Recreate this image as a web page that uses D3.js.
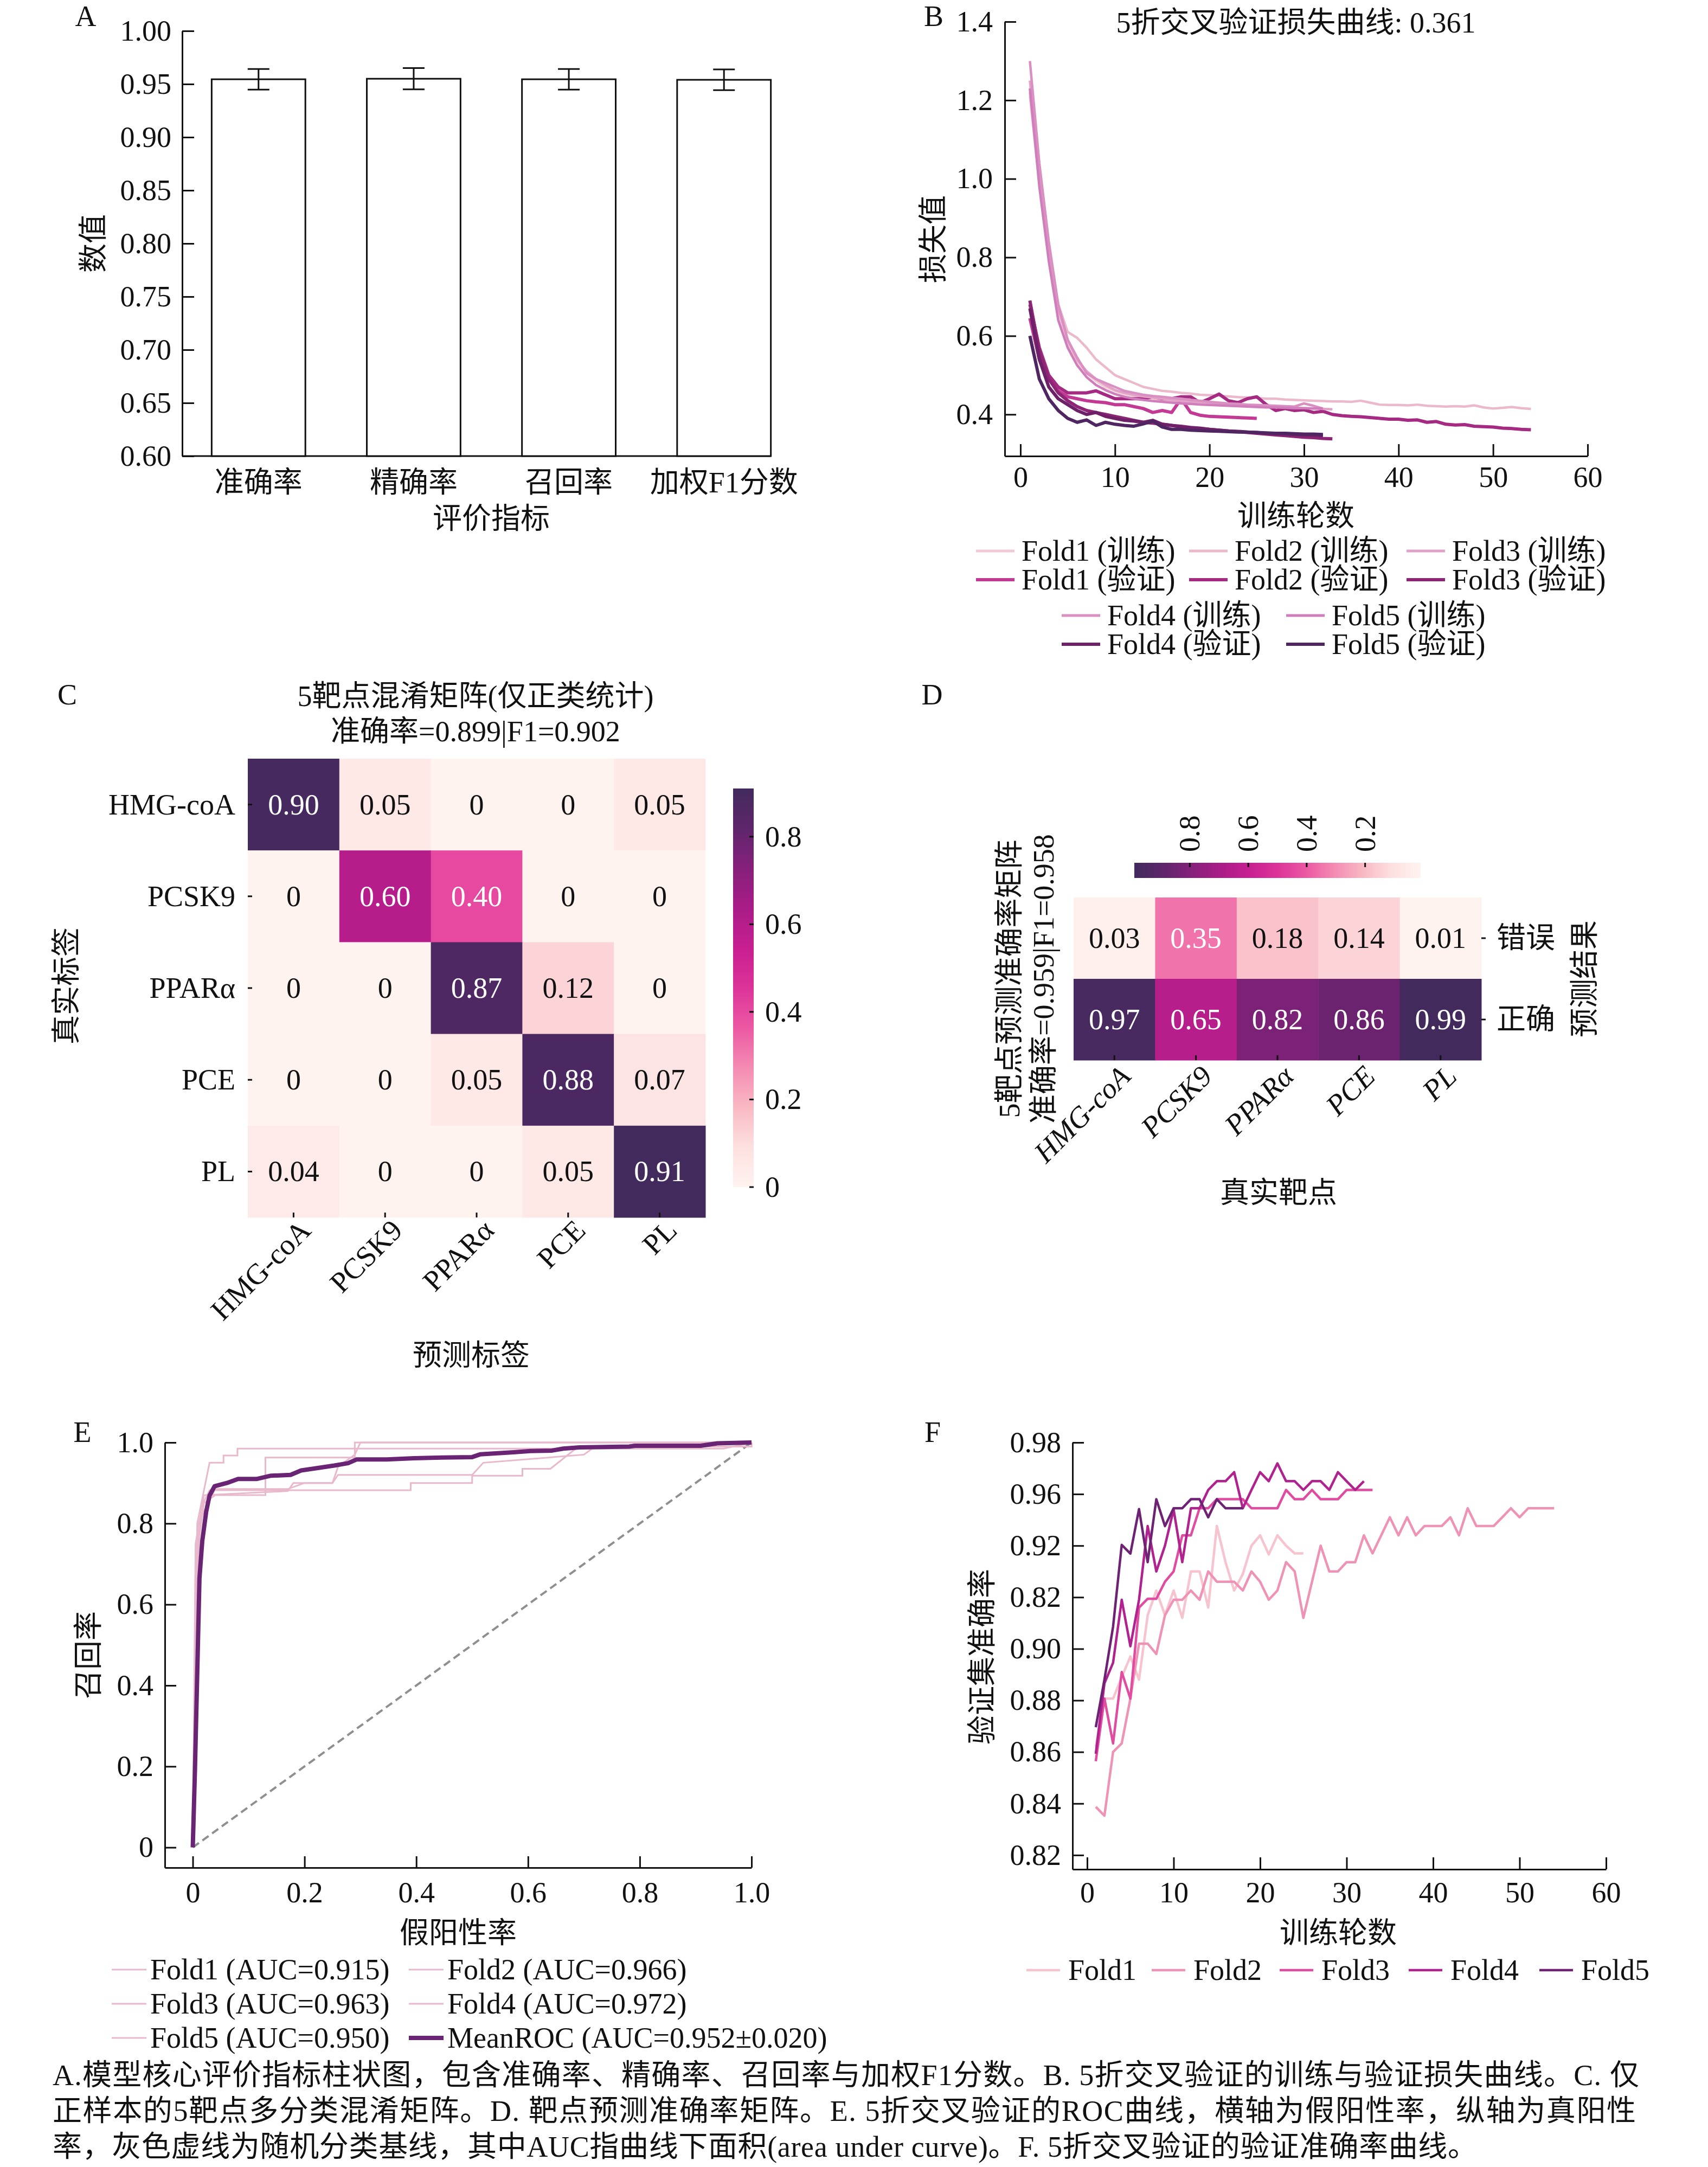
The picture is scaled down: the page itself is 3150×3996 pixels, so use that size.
<!DOCTYPE html>
<html><head><meta charset="utf-8">
<script src="https://cdn.jsdelivr.net/npm/d3@7"></script>
<style>body{margin:0;background:#fff}svg{display:block}</style>
</head><body>
<svg id="fig" width="3150" height="3996"></svg>
<script>
// ================= DATA =================
// Panel A
const metricsA = ["准确率", "精确率", "召回率", "加权F1分数"];
const meanA = [0.9545, 0.9550, 0.9545, 0.9540];
const errA = [0.0097, 0.0100, 0.0097, 0.0098];
const yTicksA = [0.60, 0.65, 0.70, 0.75, 0.80, 0.85, 0.90, 0.95, 1.00];

// Panel B (loss per epoch, epochs start at 1)
const foldNames = ["Fold1", "Fold2", "Fold3", "Fold4", "Fold5"];
const trainLossB = [
  [1.21,0.99,0.80,0.66,0.58,0.535,0.505,0.485,0.47,0.46,0.452,0.447,0.443,0.44,0.437,0.435,0.433,0.431,0.43,0.428,0.427,0.426,0.425,0.424,0.423],
  [1.22,1.00,0.82,0.68,0.61,0.595,0.57,0.54,0.52,0.50,0.49,0.48,0.47,0.465,0.46,0.458,0.455,0.453,0.45,0.449,0.448,0.446,0.444,0.443,0.442,0.44,0.44,0.438,0.437,0.436,0.435,0.434,0.433,0.433,0.432,0.435,0.43,0.425,0.424,0.424,0.423,0.425,0.422,0.421,0.42,0.421,0.42,0.423,0.418,0.415,0.417,0.419,0.416,0.414],
  [1.25,1.02,0.83,0.67,0.59,0.54,0.51,0.49,0.475,0.462,0.455,0.45,0.446,0.443,0.44,0.437,0.434,0.432,0.43,0.428,0.426,0.425,0.423,0.422,0.421,0.42,0.419,0.418,0.417,0.416,0.415,0.414,0.413],
  [1.30,1.04,0.84,0.68,0.59,0.545,0.505,0.49,0.48,0.47,0.46,0.455,0.45,0.447,0.445,0.442,0.44,0.437,0.435,0.432,0.43,0.428,0.427,0.425,0.424,0.423,0.422,0.421,0.42,0.428,0.422,0.415],
  [1.23,0.98,0.79,0.64,0.57,0.525,0.495,0.475,0.462,0.452,0.445,0.44,0.437,0.434,0.432,0.43,0.428,0.427,0.425,0.424,0.423,0.422,0.421,0.42,0.419,0.418,0.418,0.417,0.416,0.416,0.415,0.415]
];
const valLossB = [
  [0.645,0.54,0.49,0.46,0.445,0.44,0.435,0.432,0.43,0.425,0.425,0.42,0.415,0.405,0.41,0.405,0.44,0.405,0.398,0.395,0.394,0.393,0.392,0.391,0.390],
  [0.68,0.57,0.50,0.47,0.455,0.455,0.455,0.46,0.45,0.44,0.44,0.44,0.44,0.445,0.44,0.44,0.445,0.445,0.43,0.44,0.452,0.435,0.43,0.44,0.445,0.425,0.41,0.415,0.41,0.412,0.405,0.408,0.40,0.397,0.395,0.394,0.392,0.39,0.388,0.388,0.385,0.386,0.38,0.382,0.375,0.373,0.374,0.37,0.369,0.368,0.365,0.364,0.362,0.361],
  [0.69,0.56,0.49,0.455,0.435,0.42,0.41,0.405,0.40,0.395,0.39,0.385,0.38,0.378,0.375,0.372,0.37,0.367,0.365,0.362,0.36,0.358,0.356,0.354,0.352,0.35,0.348,0.346,0.344,0.342,0.341,0.339,0.338],
  [0.67,0.54,0.47,0.44,0.425,0.41,0.40,0.405,0.395,0.39,0.385,0.383,0.38,0.385,0.375,0.372,0.368,0.366,0.364,0.362,0.36,0.358,0.357,0.355,0.354,0.352,0.351,0.35,0.349,0.348,0.347,0.346],
  [0.60,0.49,0.44,0.41,0.39,0.38,0.386,0.372,0.38,0.375,0.372,0.37,0.376,0.383,0.368,0.362,0.362,0.36,0.359,0.358,0.357,0.356,0.355,0.355,0.354,0.353,0.352,0.352,0.351,0.35,0.35,0.349]
];
const xTicksB = [0, 10, 20, 30, 40, 50, 60];
const yTicksB = [0.4, 0.6, 0.8, 1.0, 1.2, 1.4];
const titleB = "5折交叉验证损失曲线: 0.361";

// Panel C
const targets = ["HMG-coA", "PCSK9", "PPARα", "PCE", "PL"];
const confC = [
  [0.90, 0.05, 0, 0, 0.05],
  [0, 0.60, 0.40, 0, 0],
  [0, 0, 0.87, 0.12, 0],
  [0, 0, 0.05, 0.88, 0.07],
  [0.04, 0, 0, 0.05, 0.91]
];
const cbTicksC = [0, 0.2, 0.4, 0.6, 0.8];

// Panel D
const rowsD = ["错误", "正确"];
const accD = [
  [0.03, 0.35, 0.18, 0.14, 0.01],
  [0.97, 0.65, 0.82, 0.86, 0.99]
];
const cbTicksD = [0.8, 0.6, 0.4, 0.2];

// Panel E (ROC points: [FPR, TPR])
const aucLabelsE = ["Fold1 (AUC=0.915)", "Fold2 (AUC=0.966)", "Fold3 (AUC=0.963)", "Fold4 (AUC=0.972)", "Fold5 (AUC=0.950)"];
const meanLabelE = "MeanROC (AUC=0.952±0.020)";
const rocFolds = [
  [[0,0],[0.005,0.6],[0.015,0.84],[0.03,0.882],[0.39,0.882],[0.39,0.90],[0.50,0.90],[0.50,0.918],[0.59,0.918],[0.59,0.935],[0.64,0.935],[0.69,0.99],[1,0.99],[1,1]],
  [[0,0],[0.005,0.7],[0.02,0.85],[0.04,0.87],[0.13,0.87],[0.13,0.963],[0.29,0.963],[0.29,1],[1,1]],
  [[0,0],[0.008,0.8],[0.03,0.95],[0.055,0.95],[0.055,0.968],[0.08,0.968],[0.08,0.985],[0.95,0.985],[1,1]],
  [[0,0],[0.005,0.75],[0.02,0.87],[0.17,0.88],[0.18,0.90],[0.25,0.90],[0.26,0.94],[0.29,0.97],[0.30,1],[1,1]],
  [[0,0],[0.01,0.8],[0.04,0.885],[0.17,0.885],[0.2,0.9],[0.25,0.9],[0.26,0.92],[0.5,0.92],[0.52,0.95],[0.7,0.97],[0.72,0.99],[1,0.99],[1,1]]
];
const meanROC = [[0,0],[0.004,0.196],[0.012,0.665],[0.017,0.757],[0.024,0.829],[0.030,0.869],[0.039,0.892],[0.061,0.900],[0.081,0.910],[0.115,0.910],[0.140,0.918],[0.175,0.920],[0.194,0.931],[0.219,0.936],[0.253,0.943],[0.278,0.949],[0.293,0.958],[0.347,0.958],[0.396,0.961],[0.446,0.963],[0.500,0.964],[0.515,0.971],[0.574,0.976],[0.604,0.979],[0.643,0.980],[0.663,0.985],[0.692,0.988],[0.781,0.990],[0.791,0.992],[0.909,0.992],[0.939,0.998],[1,1]];
const ticksE = [0, 0.2, 0.4, 0.6, 0.8, 1.0];

// Panel F (validation accuracy per epoch)
const valAccF = [
  [0.862,0.8807,0.8807,0.889,0.897,0.888,0.913,0.9226,0.913,0.9226,0.912,0.93,0.93,0.916,0.9476,0.9336,0.9226,0.929,0.94,0.944,0.9366,0.944,0.94,0.937,0.937],
  [0.8387,0.8353,0.86,0.8633,0.8807,0.902,0.902,0.898,0.913,0.919,0.919,0.9226,0.919,0.93,0.926,0.926,0.926,0.9226,0.93,0.926,0.919,0.9226,0.9336,0.93,0.912,0.926,0.94,0.93,0.93,0.9336,0.9336,0.944,0.937,0.944,0.951,0.944,0.951,0.944,0.9476,0.9476,0.9476,0.951,0.944,0.9545,0.9476,0.9476,0.9476,0.951,0.9545,0.951,0.9545,0.9545,0.9545,0.9545],
  [0.8564,0.8807,0.8633,0.891,0.8807,0.916,0.9194,0.9194,0.926,0.93,0.944,0.944,0.9545,0.9545,0.958,0.958,0.958,0.958,0.9545,0.9545,0.9545,0.9545,0.9616,0.958,0.958,0.9616,0.958,0.958,0.958,0.9616,0.9616,0.9616,0.9616],
  [0.8593,0.8866,0.8946,0.919,0.901,0.919,0.9476,0.93,0.94,0.954,0.9336,0.9545,0.9545,0.9616,0.965,0.965,0.9685,0.9545,0.9616,0.9685,0.965,0.9719,0.965,0.965,0.9616,0.965,0.965,0.9616,0.9685,0.965,0.9616,0.965],
  [0.8696,0.888,0.9086,0.9403,0.9369,0.9542,0.9336,0.958,0.9476,0.9545,0.9545,0.958,0.958,0.951,0.958,0.9545,0.9545,0.9545]
];
const xTicksF = [0, 10, 20, 30, 40, 50, 60];
const yTicksF = [0.82, 0.84, 0.86, 0.88, 0.90, 0.92, 0.94, 0.96, 0.98];
const yTickLabelsF = ["0.82", "0.84", "0.86", "0.88", "0.90", "0.82", "0.92", "0.96", "0.98"];

const captionLines = [
  "A.模型核心评价指标柱状图，包含准确率、精确率、召回率与加权F1分数。B. 5折交叉验证的训练与验证损失曲线。C. 仅",
  "正样本的5靶点多分类混淆矩阵。D. 靶点预测准确率矩阵。E. 5折交叉验证的ROC曲线，横轴为假阳性率，纵轴为真阳性",
  "率，灰色虚线为随机分类基线，其中AUC指曲线下面积(area under curve)。F. 5折交叉验证的验证准确率曲线。"
];

// ================= STYLE =================
const FONT = "'Liberation Serif','Times New Roman','Noto Sans CJK SC',serif";
const FS = 54;
const INK = "#111";
const trainColors = ["#f2cad3", "#ecb8cb", "#e2a1c7", "#d98fc2", "#cf7ebb"];
const valColors = ["#c23a94", "#a52b82", "#8c2574", "#6e2069", "#4f2662"];
const accColors = ["#f6c3ce", "#ef93b6", "#e04c9f", "#b0238e", "#6d2273"];
const cmapStops = ["#fff3f0","#fde0e0","#f9b9c3","#f48bb3","#ec58a3","#dc3399","#c81f91","#aa1c87","#86207a","#5e256b","#422a5d"];
const cmap = d3.piecewise(d3.interpolateRgb, cmapStops);

const svg = d3.select("#fig");
svg.append("rect").attr("width", 3150).attr("height", 3996).attr("fill", "#fff");
const defs = svg.append("defs");

function T(x, y, s, o = {}) {
  const t = svg.append("text")
    .attr("x", x).attr("y", y)
    .attr("font-family", FONT).attr("font-size", o.fs || FS)
    .attr("text-anchor", o.anchor || "middle")
    .attr("dominant-baseline", o.base || "central")
    .attr("fill", o.fill || INK)
    .text(s);
  if (o.rot) t.attr("transform", `rotate(${o.rot},${x},${y})`);
  if (o.italic) t.attr("font-style", "italic");
  if (o.len) t.attr("textLength", o.len).attr("lengthAdjust", "spacing");
  return t;
}
function styleAxis(g) {
  g.attr("font-family", FONT).attr("font-size", FS);
  g.selectAll(".tick line").attr("stroke", INK).attr("stroke-width", 3);
  g.selectAll(".domain").attr("stroke", INK).attr("stroke-width", 3);
  g.selectAll(".tick text").attr("fill", INK);
}

// ================= PANEL A =================
{
  const y = d3.scaleLinear().domain([0.60, 1.00]).range([841, 57]);
  const x = d3.scaleBand().domain(metricsA).range([336, 1476]).paddingInner(0.396).paddingOuter(0.19);
  const gy = svg.append("g").attr("transform", "translate(336,0)")
    .call(d3.axisLeft(y).tickValues(yTicksA).tickFormat(d3.format(".2f")).tickSizeInner(-22).tickSizeOuter(0).tickPadding(20));
  styleAxis(gy);
  const gx = svg.append("g").attr("transform", "translate(0,841)")
    .call(d3.axisBottom(x).tickSize(0).tickPadding(29));
  gx.select(".domain").remove();
  styleAxis(gx);
  const xEnd = x(metricsA[metricsA.length - 1]) + x.bandwidth();
  svg.append("line").attr("x1", 336).attr("x2", xEnd).attr("y1", 841).attr("y2", 841).attr("stroke", INK).attr("stroke-width", 3);
  metricsA.forEach((m, i) => {
    svg.append("rect").attr("x", x(m)).attr("width", x.bandwidth())
      .attr("y", y(meanA[i])).attr("height", y(0.60) - y(meanA[i]))
      .attr("fill", "#fff").attr("stroke", INK).attr("stroke-width", 3);
    const cx = x(m) + x.bandwidth() / 2;
    const y1 = y(meanA[i] + errA[i]), y2 = y(meanA[i] - errA[i]);
    svg.append("line").attr("x1", cx).attr("x2", cx).attr("y1", y1).attr("y2", y2).attr("stroke", INK).attr("stroke-width", 3);
    [y1, y2].forEach(yy => svg.append("line").attr("x1", cx - 20).attr("x2", cx + 20).attr("y1", yy).attr("y2", yy).attr("stroke", INK).attr("stroke-width", 3));
  });
  T(158, 30, "A");
  T(173, 449, "数值", { rot: -90 });
  T(906, 957, "评价指标");
}

// ================= PANEL B =================
{
  const x = d3.scaleLinear().domain([-1.66, 60]).range([1853, 2928]);
  const y = d3.scaleLinear().domain([0.294, 1.4]).range([841, 40]);
  const line = d3.line().x((d, i) => x(i + 1)).y(d => y(d));
  foldNames.forEach((f, i) => {
    svg.append("path").attr("d", line(trainLossB[i])).attr("fill", "none")
      .attr("stroke", trainColors[i]).attr("stroke-width", 4.5).attr("stroke-linejoin", "round");
    svg.append("path").attr("d", line(valLossB[i])).attr("fill", "none")
      .attr("stroke", valColors[i]).attr("stroke-width", 6).attr("stroke-linejoin", "round");
  });
  const gx = svg.append("g").attr("transform", "translate(0,841)")
    .call(d3.axisBottom(x).tickValues(xTicksB).tickSizeInner(-22).tickSizeOuter(0).tickPadding(19));
  styleAxis(gx);
  const gy = svg.append("g").attr("transform", "translate(1853,0)")
    .call(d3.axisLeft(y).tickValues(yTicksB).tickFormat(d3.format(".1f")).tickSizeInner(-21).tickSizeOuter(0).tickPadding(22));
  styleAxis(gy);
  T(1722, 30, "B");
  T(2390, 42, titleB);
  T(1722, 441, "损失值", { rot: -90 });
  T(2390, 952, "训练轮数");
  // legend
  const topX = [1800, 2193, 2594], botX = [1958, 2372];
  foldNames.forEach((f, i) => {
    const lx = i < 3 ? topX[i] : botX[i - 3];
    const ty = i < 3 ? 1016 : 1135;
    [[ty, trainColors[i], "(训练)", 5], [ty + 53, valColors[i], "(验证)", 6]].forEach(([yy, c, s, w]) => {
      svg.append("line").attr("x1", lx).attr("x2", lx + 71).attr("y1", yy).attr("y2", yy).attr("stroke", c).attr("stroke-width", w);
      T(lx + 84, yy, `${f} ${s}`, { anchor: "start" });
    });
  });
}

// ================= PANEL C =================
{
  const x = d3.scaleBand().domain(targets).range([457, 1301]);
  const y = d3.scaleBand().domain(targets).range([1399, 2245]);
  const color = d3.scaleSequential(cmap).domain([0, 0.91]);
  confC.forEach((row, r) => row.forEach((v, c) => {
    svg.append("rect").attr("x", x(targets[c])).attr("y", y(targets[r]))
      .attr("width", x.bandwidth() + 0.5).attr("height", y.bandwidth() + 0.5).attr("fill", color(v));
    T(x(targets[c]) + x.bandwidth() / 2, y(targets[r]) + y.bandwidth() / 2, v === 0 ? "0" : v.toFixed(2),
      { fill: v / 0.91 > 0.3 ? "#fff" : INK });
  }));
  targets.forEach(t => {
    const cy = y(t) + y.bandwidth() / 2;
    svg.append("line").attr("x1", 457).attr("x2", 465).attr("y1", cy).attr("y2", cy).attr("stroke", INK).attr("stroke-width", 3);
    T(434, cy, t, { anchor: "end" });
    const cx = x(t) + x.bandwidth() / 2;
    svg.append("line").attr("x1", cx).attr("x2", cx).attr("y1", 2245).attr("y2", 2236).attr("stroke", INK).attr("stroke-width", 3);
    T(cx + 35, 2272, t, { anchor: "end", base: "auto", rot: -45 });
  });
  // colorbar
  const cb = d3.scaleLinear().domain([0, 0.91]).range([2189, 1454]);
  const grad = defs.append("linearGradient").attr("id", "gC").attr("x1", 0).attr("y1", 1).attr("x2", 0).attr("y2", 0);
  d3.range(0, 21).forEach(i => grad.append("stop").attr("offset", i / 20).attr("stop-color", cmap(i / 20)));
  svg.append("rect").attr("x", 1352).attr("y", cb(0.91)).attr("width", 38).attr("height", cb(0) - cb(0.91)).attr("fill", "url(#gC)");
  cbTicksC.forEach(v => {
    svg.append("line").attr("x1", 1382).attr("x2", 1390).attr("y1", cb(v)).attr("y2", cb(v)).attr("stroke", INK).attr("stroke-width", 3);
    T(1411, cb(v), v === 0 ? "0" : v.toFixed(1), { anchor: "start" });
  });
  T(124, 1281, "C");
  T(877, 1284, "5靶点混淆矩阵(仅正类统计)");
  T(877, 1349, "准确率=0.899|F1=0.902");
  T(123, 1818, "真实标签", { rot: -90 });
  T(869, 2500, "预测标签");
}

// ================= PANEL D =================
{
  const x = d3.scaleBand().domain(targets).range([1980, 2732]);
  const y = d3.scaleBand().domain(rowsD).range([1655, 1955]);
  const color = d3.scaleSequential(cmap).domain([0.01, 0.99]);
  accD.forEach((row, r) => row.forEach((v, c) => {
    svg.append("rect").attr("x", x(targets[c])).attr("y", y(rowsD[r]))
      .attr("width", x.bandwidth() + 0.5).attr("height", y.bandwidth() + 0.5).attr("fill", color(v));
    T(x(targets[c]) + x.bandwidth() / 2, y(rowsD[r]) + y.bandwidth() / 2, v.toFixed(2),
      { fill: (v - 0.01) / 0.98 > 0.3 ? "#fff" : INK });
  }));
  rowsD.forEach(rw => {
    const cy = y(rw) + y.bandwidth() / 2;
    svg.append("line").attr("x1", 2732).attr("x2", 2740).attr("y1", cy).attr("y2", cy).attr("stroke", INK).attr("stroke-width", 3);
    T(2760, cy, rw, { anchor: "start" });
  });
  targets.forEach(t => {
    const cx = x(t) + x.bandwidth() / 2;
    svg.append("line").attr("x1", cx).attr("x2", cx).attr("y1", 1955).attr("y2", 1946).attr("stroke", INK).attr("stroke-width", 3);
    T(cx + 33, 1988, t, { anchor: "end", base: "auto", rot: -45, italic: true });
  });
  // horizontal colorbar (high values on the left)
  const cb = d3.scaleLinear().domain([0.99, 0.01]).range([2092, 2620]);
  const grad = defs.append("linearGradient").attr("id", "gD").attr("x1", 0).attr("y1", 0).attr("x2", 1).attr("y2", 0);
  d3.range(0, 21).forEach(i => grad.append("stop").attr("offset", i / 20).attr("stop-color", cmap(1 - i / 20)));
  svg.append("rect").attr("x", cb(0.99)).attr("y", 1591).attr("width", cb(0.01) - cb(0.99)).attr("height", 28).attr("fill", "url(#gD)");
  cbTicksD.forEach(v => {
    svg.append("line").attr("x1", cb(v)).attr("x2", cb(v)).attr("y1", 1591).attr("y2", 1599).attr("stroke", INK).attr("stroke-width", 3);
    T(cb(v), 1571, v.toFixed(1), { anchor: "start", rot: -90 });
  });
  T(1719, 1281, "D");
  T(1862, 1805, "5靶点预测准确率矩阵", { rot: -90 });
  T(1925, 1805, "准确率=0.959|F1=0.958", { rot: -90 });
  T(2923, 1805, "预测结果", { rot: -90 });
  T(2358, 2200, "真实靶点");
}

// ================= PANEL E =================
{
  const x = d3.scaleLinear().domain([-0.05, 1.0]).range([304, 1386]);
  const y = d3.scaleLinear().domain([-0.05, 1.0]).range([3444, 2660]);
  const fmt = d => d === 0 ? "0" : d3.format(".1f")(d);
  const line = d3.line().x(d => x(d[0])).y(d => y(d[1]));
  svg.append("path").attr("d", line([[0, 0], [1, 1]])).attr("stroke", "#8f8f8f").attr("stroke-width", 4)
    .attr("stroke-dasharray", "14,8").attr("fill", "none");
  rocFolds.forEach(pts => svg.append("path").attr("d", line(pts)).attr("fill", "none")
    .attr("stroke", "#e8b8cc").attr("stroke-width", 3));
  svg.append("path").attr("d", line(meanROC)).attr("fill", "none").attr("stroke", "#6a2474").attr("stroke-width", 8).attr("stroke-linejoin", "round");
  const gx = svg.append("g").attr("transform", "translate(0,3444)")
    .call(d3.axisBottom(x).tickValues(ticksE).tickFormat(fmt).tickSizeInner(-21).tickSizeOuter(0).tickPadding(26));
  styleAxis(gx);
  const gy = svg.append("g").attr("transform", "translate(304,0)")
    .call(d3.axisLeft(y).tickValues(ticksE).tickFormat(fmt).tickSizeInner(-21).tickSizeOuter(0).tickPadding(21));
  styleAxis(gy);
  T(152, 2641, "E");
  T(164, 3052, "召回率", { rot: -90 });
  T(845, 3565, "假阳性率");
  const colX = [206, 754], rowY = [3632, 3695, 3758];
  const labels = aucLabelsE.concat([meanLabelE]);
  labels.forEach((s, i) => {
    const lx = colX[i % 2], ly = rowY[Math.floor(i / 2)];
    const isMean = i === labels.length - 1;
    svg.append("line").attr("x1", lx).attr("x2", lx + 64).attr("y1", ly).attr("y2", ly)
      .attr("stroke", isMean ? "#6a2474" : "#e8b8cc").attr("stroke-width", isMean ? 8 : 3);
    T(lx + 71, ly, s, { anchor: "start" });
  });
}

// ================= PANEL F =================
{
  const x = d3.scaleLinear().domain([-1.69, 60]).range([1978, 2962]);
  const y = d3.scaleLinear().domain([0.8145, 0.98]).range([3447, 2660]);
  const line = d3.line().x((d, i) => x(i + 1)).y(d => y(d));
  valAccF.forEach((arr, i) => svg.append("path").attr("d", line(arr)).attr("fill", "none")
    .attr("stroke", accColors[i]).attr("stroke-width", 4.5).attr("stroke-linejoin", "round"));
  const gx = svg.append("g").attr("transform", "translate(0,3447)")
    .call(d3.axisBottom(x).tickValues(xTicksF).tickSizeInner(-22).tickSizeOuter(0).tickPadding(23));
  styleAxis(gx);
  const gy = svg.append("g").attr("transform", "translate(1978,0)")
    .call(d3.axisLeft(y).tickValues(yTicksF).tickFormat((d, i) => yTickLabelsF[i]).tickSizeInner(-21).tickSizeOuter(0).tickPadding(21));
  styleAxis(gy);
  T(1720, 2641, "F");
  T(1812, 3055, "验证集准确率", { rot: -90 });
  T(2468, 3565, "训练轮数");
  const lxs = [1893, 2124, 2360, 2598, 2839];
  foldNames.forEach((f, i) => {
    svg.append("line").attr("x1", lxs[i]).attr("x2", lxs[i] + 62).attr("y1", 3633).attr("y2", 3633)
      .attr("stroke", accColors[i]).attr("stroke-width", 4.5);
    T(lxs[i] + 77, 3633, f, { anchor: "start" });
  });
}

// ================= CAPTION =================
T(97, 3827, captionLines[0], { anchor: "start", len: 2926 });
T(97, 3893, captionLines[1], { anchor: "start", len: 2920 });
T(97, 3959, captionLines[2], { anchor: "start", len: 2627 });
</script>
</body></html>
